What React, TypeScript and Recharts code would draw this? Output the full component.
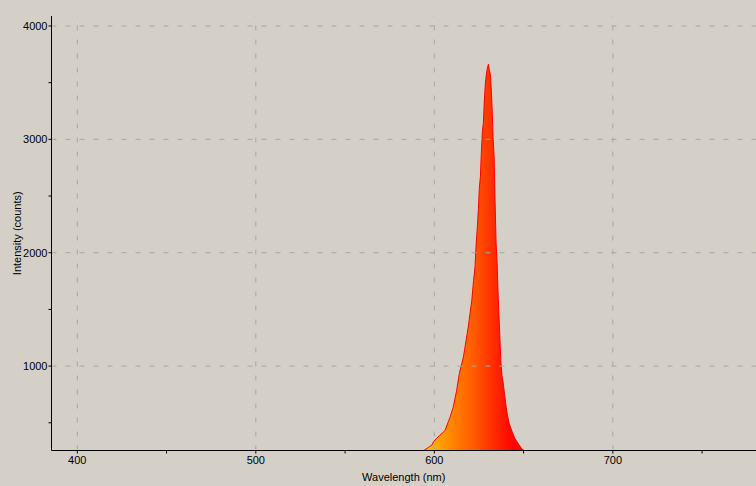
import React from 'react';
import { AreaChart, Area, XAxis, YAxis, ReferenceLine, Label } from 'recharts';

const wavelengths = [
  594.2, 596.9, 598.8, 599.4, 601.0, 603.0, 605.0, 606.0, 608.8, 610.6,
  612.5, 614.0, 616.3, 617.8, 619.0, 620.0, 621.0, 622.0, 622.8, 623.4,
  624.1, 624.7, 625.2, 625.8, 626.3, 626.9, 627.5, 628.0, 628.6, 629.1,
  629.7, 630.3, 630.8, 631.4, 631.8, 632.3, 632.9, 633.5, 634.0, 634.6,
  635.2, 635.8, 636.5, 637.2, 637.9, 638.6, 639.3, 640.0, 640.6, 641.3,
  642.0, 643.7, 645.2, 647.1, 649.0, 650.4,
];
const counts = [
  256, 285, 306, 329, 359, 388, 417, 432, 549, 638,
  785, 935, 1080, 1227, 1345, 1465, 1580, 1757, 1875, 2066,
  2228, 2390, 2567, 2670, 2870, 3062, 3150, 3338, 3495, 3568,
  3627, 3662, 3612, 3574, 3474, 3303, 3018, 2846, 2478, 2083,
  1904, 1600, 1345, 1060, 918, 850, 756, 668, 600, 540,
  491, 417, 359, 314, 270, 256,
];
const xTicks = [400, 450, 500, 550, 600, 650, 700, 750];
const yTicks = [500, 1000, 1500, 2000, 2500, 3000, 3500, 4000];
const xGridValues = [400, 500, 600, 700];
const yGridValues = [1000, 2000, 3000, 4000];
const xLabel = 'Wavelength (nm)';
const yLabel = 'Intensity (counts)';

const data = wavelengths.map((wl, i) => ({ wl, counts: counts[i] }));

const FONT = '"Liberation Sans", Arial, sans-serif';
const tickStyle = { fontSize: 11, fill: '#000', fontFamily: FONT };
const GRID = '#a6a6a6';

export default function App() {
  return (
    <div
      style={{
        position: 'absolute',
        left: 0,
        top: 0,
        width: 756,
        height: 486,
        background: '#d4d0c8',
        overflow: 'hidden',
      }}
    >
      <AreaChart
        width={756}
        height={486}
        data={data}
        margin={{ top: 16, right: 0, bottom: 0, left: 0.5 }}
      >
        <defs>
          <linearGradient id="specFill" x1="0" y1="0" x2="1" y2="0">
            <stop offset="0" stopColor="#ffc400" />
            <stop offset="0.1" stopColor="#ffae00" />
            <stop offset="0.35" stopColor="#ff7600" />
            <stop offset="0.5" stopColor="#ff5a00" />
            <stop offset="0.65" stopColor="#ff3600" />
            <stop offset="0.85" stopColor="#ff0a00" />
            <stop offset="1" stopColor="#ff0000" />
          </linearGradient>
        </defs>
        <XAxis
          dataKey="wl"
          type="number"
          domain={[385.55, 780.2]}
          ticks={xTicks}
          allowDataOverflow
          height={35.5}
          tickSize={3}
          tickMargin={3}
          stroke="#000"
          tick={tickStyle}
          tickFormatter={(v: number) => (v % 100 === 0 ? String(v) : '')}
        >
          <Label
            value={xLabel}
            position="insideBottom"
            offset={5}
            style={{ fontSize: 11, fill: '#000', fontFamily: FONT }}
          />
        </XAxis>
        <YAxis
          type="number"
          domain={[255.5, 4088]}
          ticks={yTicks}
          allowDataOverflow
          width={51}
          tickSize={3}
          tickMargin={1}
          stroke="#000"
          tick={tickStyle}
          tickFormatter={(v: number) => (v % 1000 === 0 ? String(v) : '')}
        >
          <Label
            value={yLabel}
            angle={-90}
            position="insideLeft"
            offset={17}
            style={{ fontSize: 11, fill: '#000', fontFamily: FONT, textAnchor: 'middle' }}
          />
        </YAxis>
        <Area
          type="linear"
          dataKey="counts"
          stroke="#ff0000"
          strokeWidth={1}
          fill="url(#specFill)"
          fillOpacity={1}
          isAnimationActive={false}
          dot={false}
          activeDot={false}
        />
        {xGridValues.map((v) => (
          <ReferenceLine key={'x' + v} x={v} stroke={GRID} strokeDasharray="5 9" />
        ))}
        {yGridValues.map((v) => (
          <ReferenceLine key={'y' + v} y={v} stroke={GRID} strokeDasharray="5 9" />
        ))}
      </AreaChart>
    </div>
  );
}
